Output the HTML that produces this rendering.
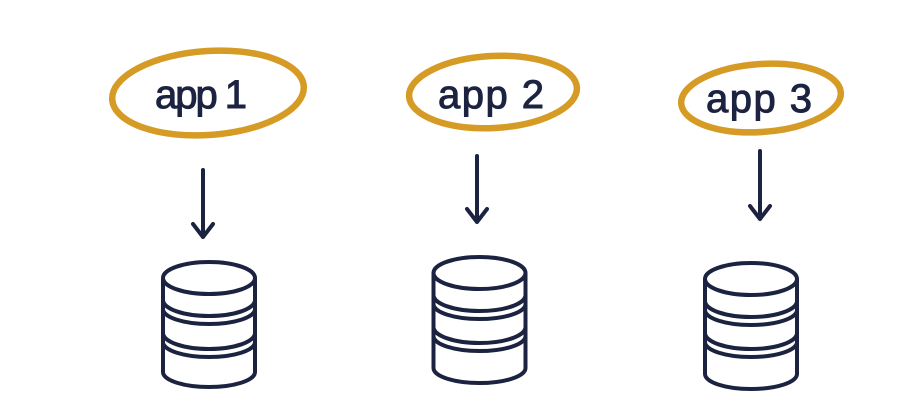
<!DOCTYPE html>
<html><head><meta charset="utf-8"><style>
html,body{margin:0;padding:0;background:#fff;width:921px;height:418px;overflow:hidden}
svg{display:block}
text{font-family:"Liberation Sans",sans-serif;font-size:40px;fill:#1c2340;stroke:#1c2340;stroke-width:1}
</style></head><body>
<svg width="921" height="418" viewBox="0 0 921 418">
<g fill="none" stroke="#d59b25" stroke-width="6.5">
<ellipse cx="208" cy="93" rx="96" ry="42" transform="rotate(-4 208 93)"/>
<ellipse cx="493" cy="92" rx="84" ry="36" transform="rotate(-3 493 92)"/>
<ellipse cx="761" cy="98" rx="80" ry="34" transform="rotate(-4 761 98)"/>
</g>
<text x="155" y="108" textLength="92">app 1</text>
<text x="438" y="108" textLength="106">app 2</text>
<text x="706" y="112" textLength="106">app 3</text>
<g fill="none" stroke="#1c2340" stroke-width="4" stroke-linecap="round" stroke-linejoin="round">
<path d="M203 170V237M193 224L203 237L213 224"/>
<path d="M477 156V222M467 209L477 222L487 209"/>
<path d="M760 151V219M750 206L760 219L770 206"/>
</g>
<g fill="none" stroke="#1c2340" stroke-width="4">
<!-- DB1 -->
<ellipse cx="209" cy="278" rx="46" ry="16"/>
<path d="M163 278V372A46 15 0 0 0 255 372V278"/>
<path d="M163 300A46 16 0 0 0 255 300M163 309A46 15 0 0 0 255 309"/>
<path d="M163 333A46 16 0 0 0 255 333M163 342A46 15 0 0 0 255 342"/>
<!-- DB2 -->
<ellipse cx="479.5" cy="273" rx="46" ry="16"/>
<path d="M433.5 273V368A46 15 0 0 0 525.5 368V273"/>
<path d="M433.5 295A46 16 0 0 0 525.5 295M433.5 304A46 15 0 0 0 525.5 304"/>
<path d="M433.5 327A46 16 0 0 0 525.5 327M433.5 336A46 15 0 0 0 525.5 336"/>
<!-- DB3 -->
<ellipse cx="751" cy="279" rx="46" ry="16"/>
<path d="M705 279V374A46 15 0 0 0 797 374V279"/>
<path d="M705 301A46 16 0 0 0 797 301M705 310A46 15 0 0 0 797 310"/>
<path d="M705 333A46 16 0 0 0 797 333M705 342A46 15 0 0 0 797 342"/>
</g>
</svg>
</body></html>
